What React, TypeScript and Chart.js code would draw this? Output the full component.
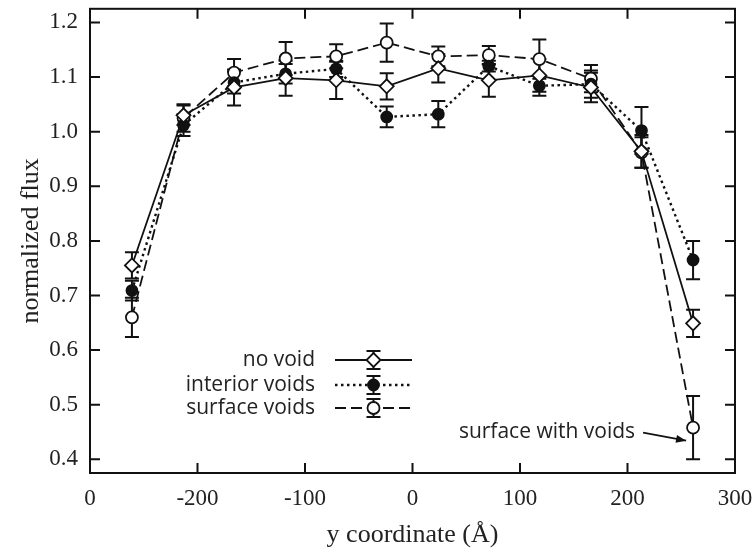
import React, { useEffect, useRef } from "react";
import { Chart, registerables } from "chart.js";

Chart.register(...registerables);

// Sample positions along y (Å)
const yCoordinates = [-261, -213, -166, -118, -71, -24, 24, 71, 118, 166, 213, 261];

// Normalized flux per configuration, with error bar half-widths
const noVoid = [0.755, 1.03, 1.081, 1.098, 1.094, 1.083, 1.116, 1.094, 1.103, 1.081, 0.964, 0.649];
const noVoidErr = [0.024, 0.018, 0.033, 0.032, 0.034, 0.024, 0.026, 0.03, 0.03, 0.027, 0.03, 0.025];

const interiorVoids = [0.709, 1.012, 1.09, 1.106, 1.115, 1.027, 1.032, 1.12, 1.084, 1.087, 1.002, 0.765];
const interiorVoidsErr = [0.018, 0.02, 0.02, 0.018, 0.015, 0.019, 0.024, 0.01, 0.018, 0.025, 0.043, 0.035];

const surfaceVoids = [0.66, 1.025, 1.108, 1.134, 1.138, 1.163, 1.138, 1.14, 1.133, 1.097, 0.962, 0.458];
const surfaceVoidsErr = [0.036, 0.025, 0.025, 0.03, 0.022, 0.035, 0.018, 0.017, 0.036, 0.025, 0.028, 0.058];

const seriesNames = ["no void", "interior voids", "surface voids"];

const xTickValues = [-300, -200, -100, 0, 100, 200, 300];
const xTickLabels = ["0", "-200", "-100", "0", "100", "200", "300"];
const yTickValues = [0.4, 0.5, 0.6, 0.7, 0.8, 0.9, 1.0, 1.1, 1.2];

const xTitle = "y coordinate (Å)";
const yTitle = "normalized flux";
const calloutText = "surface with voids";

const INK = "#111";
const SERIF = "'Liberation Serif', 'Times New Roman', serif";
const SANS = "'Open Sans', 'Noto Sans', sans-serif";

type Style = {
  dash: number[];
  marker: "diamond" | "dot" | "ring";
};

const styles: Style[] = [
  { dash: [], marker: "diamond" },
  { dash: [2.5, 3.5], marker: "dot" },
  { dash: [11, 5], marker: "ring" },
];

const values = [noVoid, interiorVoids, surfaceVoids];
const errors = [noVoidErr, interiorVoidsErr, surfaceVoidsErr];

function drawMarker(ctx: CanvasRenderingContext2D, kind: Style["marker"], x: number, y: number) {
  ctx.save();
  ctx.setLineDash([]);
  ctx.lineWidth = 1.8;
  ctx.strokeStyle = INK;
  ctx.beginPath();
  if (kind === "diamond") {
    const r = 7;
    ctx.moveTo(x, y - r);
    ctx.lineTo(x + r, y);
    ctx.lineTo(x, y + r);
    ctx.lineTo(x - r, y);
    ctx.closePath();
    ctx.fillStyle = "#fff";
  } else {
    ctx.arc(x, y, kind === "dot" ? 5.5 : 6, 0, Math.PI * 2);
    ctx.fillStyle = kind === "dot" ? INK : "#fff";
  }
  ctx.fill();
  ctx.stroke();
  ctx.restore();
}

function drawErrorBar(ctx: CanvasRenderingContext2D, x: number, yTop: number, yBot: number) {
  const cap = 7;
  ctx.beginPath();
  ctx.moveTo(x, yTop);
  ctx.lineTo(x, yBot);
  ctx.moveTo(x - cap, yTop);
  ctx.lineTo(x + cap, yTop);
  ctx.moveTo(x - cap, yBot);
  ctx.lineTo(x + cap, yBot);
  ctx.stroke();
}

const errorBarPlugin = {
  id: "errorBars",
  beforeDatasetsDraw(chart: any) {
    const { ctx, scales } = chart;
    const xs = scales.x;
    const ys = scales.y;
    ctx.save();
    ctx.strokeStyle = INK;
    ctx.lineWidth = 2;
    ctx.setLineDash([]);
    values.forEach((series, s) => {
      series.forEach((v, i) => {
        const px = xs.getPixelForValue(yCoordinates[i]);
        const e = errors[s][i];
        drawErrorBar(ctx, px, ys.getPixelForValue(v + e), ys.getPixelForValue(v - e));
      });
    });
    ctx.restore();
  },
};

const framePlugin = {
  id: "frameAndKey",
  afterDatasetsDraw(chart: any) {
    const { ctx, chartArea, scales } = chart;
    const { left, right, top, bottom } = chartArea;
    const tick = 10;
    ctx.save();
    ctx.strokeStyle = INK;
    ctx.lineWidth = 2;
    ctx.setLineDash([]);
    ctx.strokeRect(left, top, right - left, bottom - top);
    ctx.beginPath();
    xTickValues.forEach((v) => {
      const px = scales.x.getPixelForValue(v);
      ctx.moveTo(px, bottom);
      ctx.lineTo(px, bottom - tick);
      ctx.moveTo(px, top);
      ctx.lineTo(px, top + tick);
    });
    yTickValues.forEach((v) => {
      const py = scales.y.getPixelForValue(v);
      ctx.moveTo(left, py);
      ctx.lineTo(left + tick, py);
      ctx.moveTo(right, py);
      ctx.lineTo(right - tick, py);
    });
    ctx.stroke();

    // key
    const keyTextRight = 315;
    const keyLineStart = 335;
    const keyLineEnd = 412;
    const keyRows = [360, 385, 408];
    ctx.font = `21px ${SANS}`;
    ctx.fillStyle = "#222";
    ctx.textAlign = "right";
    ctx.textBaseline = "middle";
    seriesNames.forEach((name, i) => {
      const y = keyRows[i];
      ctx.fillText(name, keyTextRight, y);
      ctx.save();
      ctx.lineWidth = styles[i].dash.length && styles[i].dash[0] < 4 ? 2.4 : 1.8;
      ctx.setLineDash(styles[i].dash);
      ctx.beginPath();
      ctx.moveTo(keyLineStart, y);
      ctx.lineTo(keyLineEnd, y);
      ctx.stroke();
      ctx.restore();
      const mx = (keyLineStart + keyLineEnd) / 2;
      ctx.lineWidth = 2;
      drawErrorBar(ctx, mx, y - 9, y + 9);
      drawMarker(ctx, styles[i].marker, mx, y);
    });

    // callout to the last surface-void point
    const last = surfaceVoids.length - 1;
    const px = scales.x.getPixelForValue(yCoordinates[last]);
    const py = scales.y.getPixelForValue(surfaceVoids[last]);
    const tipX = px - 7;
    const tipY = py + 13;
    const tailX = px - 50;
    const tailY = py + 5;
    ctx.fillStyle = "#222";
    ctx.textAlign = "right";
    ctx.textBaseline = "middle";
    ctx.fillText(calloutText, tailX - 8, tailY - 1);
    ctx.lineWidth = 1.8;
    ctx.beginPath();
    ctx.moveTo(tailX, tailY);
    ctx.lineTo(tipX, tipY);
    ctx.stroke();
    const ang = Math.atan2(tipY - tailY, tipX - tailX);
    const hl = 10;
    const hw = 4;
    ctx.beginPath();
    ctx.moveTo(tipX, tipY);
    ctx.lineTo(
      tipX - hl * Math.cos(ang) + hw * Math.sin(ang),
      tipY - hl * Math.sin(ang) - hw * Math.cos(ang)
    );
    ctx.lineTo(
      tipX - hl * Math.cos(ang) - hw * Math.sin(ang),
      tipY - hl * Math.sin(ang) + hw * Math.cos(ang)
    );
    ctx.closePath();
    ctx.fillStyle = INK;
    ctx.fill();
    ctx.restore();
  },
};

export default function App() {
  const canvasRef = useRef<HTMLCanvasElement | null>(null);

  useEffect(() => {
    const canvas = canvasRef.current;
    if (!canvas) return;

    const datasets = values.map((series, s) => ({
      label: seriesNames[s],
      data: series.map((v, i) => ({ x: yCoordinates[i], y: v })),
      showLine: true,
      borderColor: INK,
      borderWidth: s === 1 ? 2.4 : 1.8,
      borderDash: styles[s].dash,
      pointStyle: styles[s].marker === "diamond" ? "rectRot" : "circle",
      pointRadius: styles[s].marker === "diamond" ? 7 : styles[s].marker === "dot" ? 5.5 : 6,
      pointBackgroundColor: styles[s].marker === "dot" ? INK : "#fff",
      pointBorderColor: INK,
      pointBorderWidth: 1.8,
      tension: 0,
    }));

    const chart = new Chart(canvas, {
      type: "line",
      data: { datasets },
      options: {
        animation: false,
        responsive: false,
        devicePixelRatio: 1,
        layout: { padding: { left: 0, top: 6, right: 18, bottom: 0 } },
        plugins: {
          legend: { display: false },
          tooltip: { enabled: false },
        },
        scales: {
          x: {
            type: "linear",
            min: -300,
            max: 300,
            afterBuildTicks: (scale: any) => {
              scale.ticks = xTickValues.map((v) => ({ value: v }));
            },
            afterFit: (scale: any) => {
              scale.height = 81;
              scale.paddingLeft = 0;
              scale.paddingRight = 0;
            },
            grid: { display: false, drawTicks: false },
            border: { display: false },
            ticks: {
              padding: 12,
              maxRotation: 0,
              autoSkip: false,
              color: "#222",
              font: { family: SERIF, size: 23 },
              callback: (_v: any, idx: number) => xTickLabels[idx],
            },
            title: {
              display: true,
              text: xTitle,
              color: "#222",
              font: { family: SERIF, size: 26 },
              padding: { top: 0, bottom: 3 },
            },
          },
          y: {
            type: "linear",
            min: 0.375,
            max: 1.225,
            afterBuildTicks: (scale: any) => {
              scale.ticks = yTickValues.map((v) => ({ value: v }));
            },
            afterFit: (scale: any) => {
              scale.width = 90;
              scale.paddingTop = 0;
              scale.paddingBottom = 0;
            },
            grid: { display: false, drawTicks: false },
            border: { display: false },
            ticks: {
              padding: 12,
              autoSkip: false,
              color: "#222",
              font: { family: SERIF, size: 23 },
              callback: (v: any) => Number(v).toFixed(1),
            },
            title: {
              display: true,
              text: yTitle,
              color: "#222",
              font: { family: SERIF, size: 26 },
              padding: { top: 16, bottom: 0 },
            },
          },
        },
      },
      plugins: [errorBarPlugin, framePlugin],
    } as any);

    return () => chart.destroy();
  }, []);

  return (
    <div style={{ position: "absolute", left: 0, top: 0, width: 753, height: 554, background: "#fff" }}>
      <canvas ref={canvasRef} width={753} height={554} />
    </div>
  );
}
